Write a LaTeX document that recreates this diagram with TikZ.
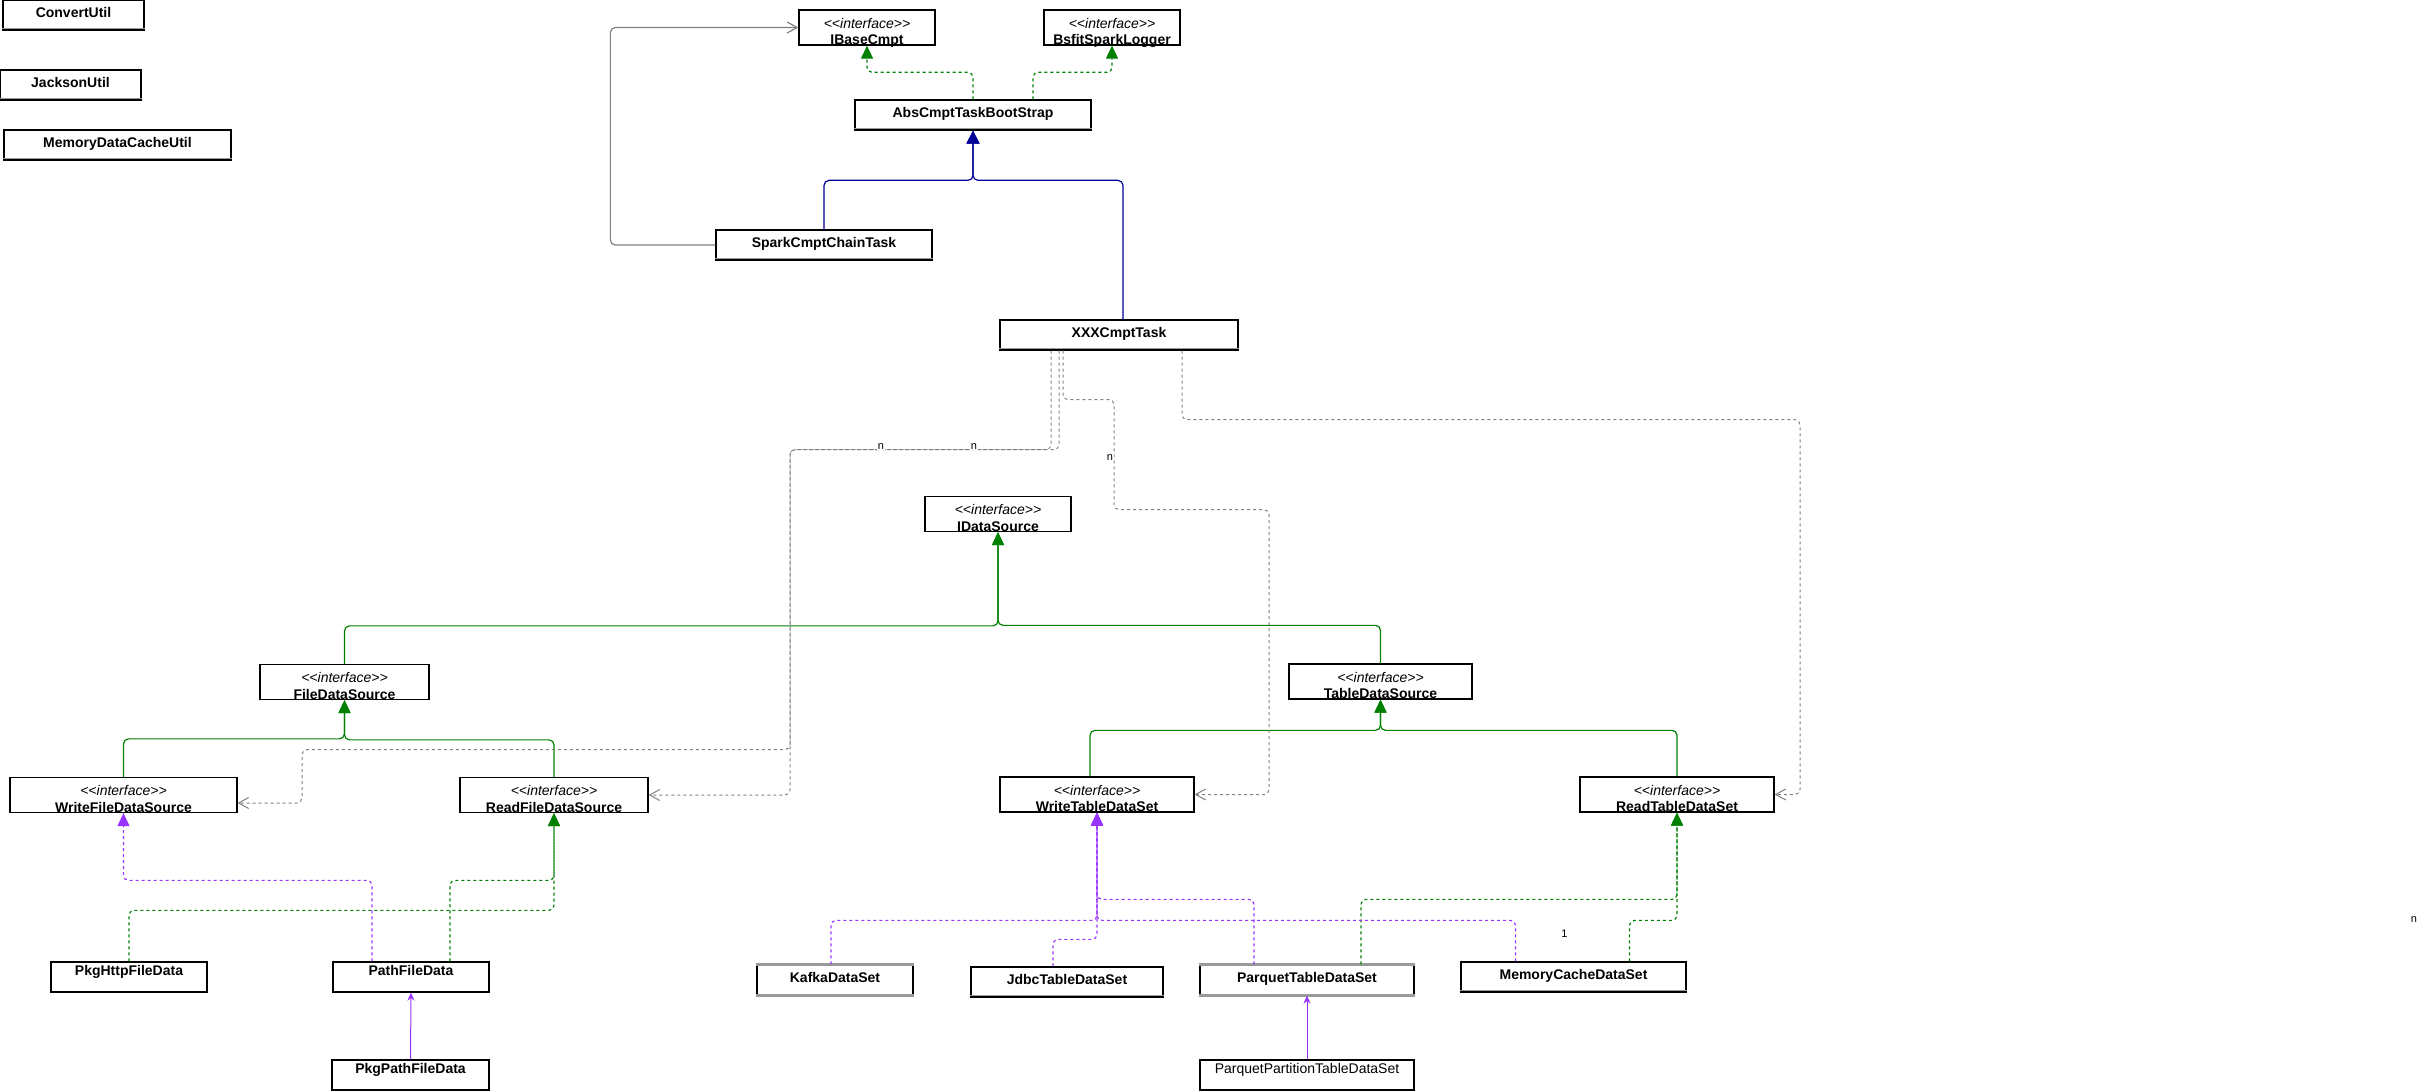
\documentclass[tikz,border=0pt]{standalone}
\usepackage{fontspec}
\setmainfont{Liberation Sans}
\usepackage{tikz}
\usetikzlibrary{arrows.meta}
\definecolor{umlgreen}{HTML}{008000}
\definecolor{umlnavy}{HTML}{000099}
\definecolor{umlviolet}{HTML}{9933FF}
\definecolor{umlgrey}{HTML}{808080}
\definecolor{umlrule}{HTML}{9A9A9A}
\newcommand{\umlsize}{\fontsize{14}{16}\selectfont}
\newcommand{\stereo}{<\kern0pt<interface>\kern0pt>}

\tikzset{
  box/.style={draw=black, line width=1.3pt, fill=white, inner sep=0pt,
              minimum height=30, text height=10pt, font={\umlsize\bfseries}},
  clsbox/.style={box, text depth=5pt},
  topbox/.style={box, text depth=14pt},
  ifbox/.style={box, minimum height=35,
    label={[anchor=base, label distance=-17.5pt, font={\umlsize\itshape}]south:\stereo},
    label={[anchor=base, label distance=-1pt, font={\umlsize\bfseries}]south:#1}},
  sepline/.style={umlrule, line width=1pt},
  rimline/.style={umlrule, line width=2.5pt},
  mult/.style={fill=white, inner sep=0.5pt, font={\fontsize{11}{13}\selectfont}},
  link/.style={line width=1.2pt, rounded corners=5pt},
  dashy/.style={dash pattern=on 3pt off 3pt},
  greenext/.style={link, umlgreen, -{Triangle[length=13pt,width=12pt]}},
  greenimpl/.style={greenext, dashy},
  navyext/.style={link, umlnavy, -{Triangle[length=13pt,width=13pt]}},
  violetimpl/.style={link, dashy, umlviolet, -{Triangle[length=13pt,width=12pt]}},
  violetext/.style={link, line width=1pt, umlviolet, -{Stealth[length=8pt,width=7pt]}},
  dep/.style={link, line width=1pt, dashy, umlgrey, -{Straight Barb[length=10pt,width=11pt]}},
  assoc/.style={link, umlgrey, -{Straight Barb[length=10pt,width=11pt]}},
}

\begin{document}
\begin{tikzpicture}[x=1pt, y=-1pt, font=\umlsize]
  \useasboundingbox (0,0) rectangle (2419,1091);

  % utilities
  \node[clsbox, minimum width=141] (convert) at (73.5,15) {ConvertUtil};
  \node[clsbox, minimum width=141] (jackson) at (70.5,85) {JacksonUtil};
  \node[clsbox, minimum width=227] (memutil) at (117.5,145) {MemoryDataCacheUtil};

  % task hierarchy
  \node[ifbox=IBaseCmpt, minimum width=136] (ibase) at (867,27.5) {};
  \node[ifbox=BsfitSparkLogger, minimum width=136] (bsfit) at (1112,27.5) {};
  \node[clsbox, minimum width=236] (boot) at (973,115) {AbsCmptTaskBootStrap};
  \node[clsbox, minimum width=216] (spark) at (824,245) {SparkCmptChainTask};
  \node[clsbox, minimum width=238] (xxx) at (1119,335) {XXXCmptTask};

  % data source interfaces
  \node[ifbox=IDataSource, minimum width=146] (ids) at (998,514) {};
  \node[ifbox=FileDataSource, minimum width=169] (fds) at (344.5,682) {};
  \node[ifbox=TableDataSource, minimum width=183] (tds) at (1380.5,681.5) {};
  \node[ifbox=WriteFileDataSource, minimum width=227] (wfds) at (123.5,795) {};
  \node[ifbox=ReadFileDataSource, minimum width=188] (rfds) at (554,795) {};
  \node[ifbox=WriteTableDataSet, minimum width=194] (wtds) at (1097,794.5) {};
  \node[ifbox=ReadTableDataSet, minimum width=194] (rtds) at (1677,794.5) {};

  % implementations
  \node[topbox, minimum width=156] (pkghttp) at (129,977) {PkgHttpFileData};
  \node[topbox, minimum width=156] (pathfd) at (411,977) {PathFileData};
  \node[topbox, minimum width=157] (pkgpath) at (410.5,1075) {PkgPathFileData};
  \node[clsbox, minimum width=156] (kafka) at (835,980) {KafkaDataSet};
  \node[clsbox, minimum width=192] (jdbc) at (1067,982) {JdbcTableDataSet};
  \node[clsbox, minimum width=214] (parquet) at (1307,980) {ParquetTableDataSet};
  \node[clsbox, minimum width=225] (memcache) at (1573.5,977) {MemoryCacheDataSet};
  \node[topbox, minimum width=214, font=\umlsize] (ppart) at (1307,1075) {ParquetPartitionTableDataSet};

  \foreach \n in {convert,jackson,memutil,boot,spark,xxx,jdbc,memcache}
    \draw[sepline] ([yshift=2.5pt]\n.south west) -- ([yshift=2.5pt]\n.south east);
  \foreach \n in {kafka,parquet}
    \draw[rimline] (\n.north west) -- (\n.north east) (\n.south west) -- (\n.south east);

  % task side
  \draw[greenimpl] (boot.north) -- ++(0,-27) -| (ibase.south);
  \draw[greenimpl] ([xshift=60pt]boot.north) -- ++(0,-27) -| (bsfit.south);
  \draw[navyext] (spark.north) -- ++(0,-49) -| (boot.south);
  \draw[navyext] ([xshift=4pt]xxx.north) -- ++(0,-139) -| (boot.south);
  \draw[assoc] (spark.west) -- ++(-105,0) |- (ibase.west);

  % interface tree
  \draw[greenext] (fds.north) -- ++(0,-38) -| (ids.south);
  \draw[greenext] (tds.north) -- ++(0,-38) -| (ids.south);
  \draw[greenext] (wfds.north) -- ++(0,-38) -| (fds.south);
  \draw[greenext] (rfds.north) -- ++(0,-37) -| (fds.south);
  \draw[greenext] ([xshift=-7pt]wtds.north) -- ++(0,-46) -| (tds.south);
  \draw[greenext] (rtds.north) -- ++(0,-46) -| (tds.south);

  % file data
  \draw[greenimpl] (pkghttp.north) -- ++(0,-51) -| (rfds.south);
  \draw[greenimpl] ([xshift=39pt]pathfd.north) -- ++(0,-81) -| (rfds.south);
  \draw[violetimpl] ([xshift=-39pt]pathfd.north) -- ++(0,-81) -| (wfds.south);
  \draw[violetext] (pkgpath.north) -- (pathfd.south);

  % table data
  \draw[violetimpl] ([xshift=-4pt]kafka.north) -- ++(0,-44) -| (wtds.south);
  \draw[violetimpl] ([xshift=-14pt]jdbc.north) -- ++(0,-27) -| (wtds.south);
  \draw[violetimpl] ([xshift=-53pt]parquet.north) -- ++(0,-65) -| (wtds.south);
  \draw[greenimpl] ([xshift=54pt]parquet.north) -- ++(0,-65) -| (rtds.south);
  \draw[violetimpl] ([xshift=-58pt]memcache.north) -- ++(0,-41) -| (wtds.south);
  \draw[greenimpl] ([xshift=56pt]memcache.north) -- ++(0,-41) -| (rtds.south);
  \draw[violetext] (ppart.north) -- (parquet.south);

  % uses
  \draw[dep] ([xshift=-68pt]xxx.south) |- ++(-261,99) |- ++(-488,300) |- ([yshift=-8pt]wfds.east);
  \draw[dep] ([xshift=-60pt]xxx.south) |- ++(-269,99) |- (rfds.east);
  \draw[dep] ([xshift=-56pt]xxx.south) |- ++(51,49) |- ++(155,110) |- (wtds.east);
  \draw[dep] ([xshift=63pt]xxx.south) |- ++(618,69) |- (rtds.east);

  \node[mult] (m1) at (881,447) {n};
  \node[mult] (m2) at (974,447) {n};
  \node[mult] (m3) at (1110,458) {n};
  \node[mult] (m4) at (1564.5,933.5) {1};
  \node[mult] (m5) at (2414,919.5) {n};
\end{tikzpicture}
\end{document}
